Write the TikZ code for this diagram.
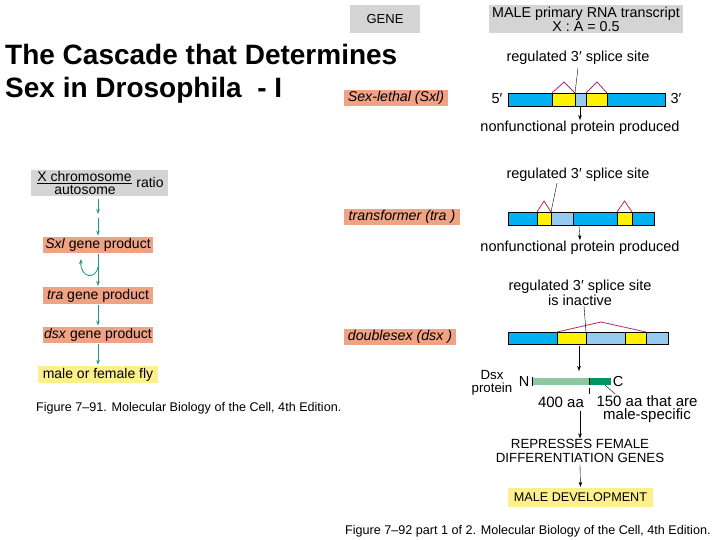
\documentclass[tikz,border=0pt]{standalone}
\usepackage{fontspec}
\setmainfont{Liberation Sans}
\usetikzlibrary{arrows.meta}
\definecolor{boxgray}{RGB}{212,212,212}
\definecolor{salmon}{RGB}{240,162,132}
\definecolor{paleyellow}{RGB}{252,240,140}
\definecolor{exonblue}{RGB}{0,176,240}
\definecolor{exonyellow}{RGB}{255,242,0}
\definecolor{paleblue}{RGB}{150,202,238}
\definecolor{intron}{RGB}{180,40,100}
\definecolor{arrowteal}{RGB}{30,150,130}
\definecolor{lightgreen}{RGB}{140,200,160}
\definecolor{darkgreen}{RGB}{0,150,100}
\tikzset{
  lbl/.style={inner sep=0pt,align=center,font=\fontsize{14.5}{15}\selectfont},
  graybox/.style={fill=boxgray,inner sep=0pt,align=center,font=\fontsize{14.3}{14.5}\selectfont},
  genebox/.style={fill=salmon,inner sep=0pt,minimum height=16pt,font=\fontsize{14.2}{15}\selectfont\itshape},
  stepbox/.style={fill=salmon,inner sep=0pt,minimum width=110pt,minimum height=16.5pt,font=\fontsize{14}{15}\selectfont},
  endbox/.style={fill=paleyellow,inner sep=0pt,font=\fontsize{14}{15}\selectfont},
  cascade/.style={->,draw=arrowteal,thick},
  splice/.style={draw=intron,thick},
  exon/.style={draw=black,line width=0.8pt},
  caption/.style={inner sep=0pt,anchor=base west,font=\fontsize{12.6}{14}\selectfont}
}
\begin{document}
\begin{tikzpicture}[x=1pt,y=-1pt,>={Stealth[length=5pt,width=3.5pt]}]
\useasboundingbox[fill=white] (0,0) rectangle (720,540);
% title
\node[inner sep=0pt,anchor=base west,font=\fontsize{28}{33}\selectfont\bfseries] (title1) at (5,65) {The Cascade that Determines};
\node[inner sep=0pt,anchor=base west,font=\fontsize{28}{33}\selectfont\bfseries] (title2) at (5,98) {Sex in Drosophila\ \ - I};

% left: the cascade
\node[graybox,minimum width=137pt,minimum height=26pt] (ratio) at (99.5,183) {};
\node[lbl,font=\fontsize{14}{15}\selectfont] (xchr) at (84.5,176) {X chromosome};
\node[lbl,font=\fontsize{14}{15}\selectfont] (auto) at (85,190) {autosome};
\draw ([yshift=-1.5pt]xchr.south west) -- ([yshift=-1.5pt]xchr.south east);
\node[lbl,font=\fontsize{14}{15}\selectfont] (ratiotxt) at (150,182) {ratio};
\coordinate (mid) at (98,216);
\node[stepbox] (sxlp) at (98,245) {\textit{Sxl} gene product};
\node[stepbox] (trap) at (98,295.5) {\textit{tra} gene product};
\node[stepbox] (dsxp) at (98,335) {\textit{dsx} gene product};
\node[endbox,minimum width=120pt,minimum height=17pt] (fly) at (98,374.5) {male or female fly};
\draw[cascade] ([yshift=-3pt]ratio.south -| mid) -- ([yshift=2pt]mid);
\draw[cascade] ([yshift=-2pt]mid) -- ([yshift=1pt]sxlp.north);
\draw[cascade] ([yshift=-1pt]sxlp.south) -- ([yshift=1pt]trap.north);
\draw[cascade] (98,267) .. controls (96,280) and (80,278) .. (81,259);
\draw[cascade] ([yshift=-1pt]trap.south) -- ([yshift=1pt]dsxp.north);
\draw[cascade] ([yshift=-1pt]dsxp.south) -- ([yshift=1pt]fly.north);
\node[caption] (cap1) at (36,411) {Figure 7–91. Molecular Biology of the Cell, 4th Edition.};

% headings
\node[graybox,minimum width=70pt,minimum height=28pt,font=\fontsize{13}{14}\selectfont] (gene) at (385,19) {GENE};
\node[graybox,minimum width=194pt,minimum height=28pt] (male) at (586,19.5) {MALE primary RNA transcript\\X : A = 0.5};
\node[genebox,minimum width=104pt] (sxl) at (396,98) {Sex-lethal (Sxl)};
\node[genebox,minimum width=116pt] (tra) at (402,217) {transformer (tra )};
\node[genebox,minimum width=112pt] (dsx) at (400,337) {doublesex (dsx )};

% Sxl transcript
\node[lbl] (sxlreg) at (578,58) {regulated 3′ splice site};
\foreach \a/\b/\c in {508/552/exonblue,552/575/exonyellow,575/586/paleblue,586/607/exonyellow,607/665/exonblue}
  \draw[exon,fill=\c] (\a,93) rectangle (\b,106);
\draw[splice] (552,93) -- (564,82) -- (575,93);
\draw[splice] (586,93) -- (597,82) -- (607,93);
\coordinate (sxlsite) at (575,93);
\draw ([yshift=-3pt]sxlreg.south) -- (sxlsite);
\node[lbl] (five1) at (497,99) {5′};
\node[lbl] (three1) at (676,99) {3′};
\coordinate (sxlcut) at (580,107);
\node[lbl] (sxlno) at (580,128) {nonfunctional protein produced};
\draw[->] (sxlcut) -- ([yshift=1pt]sxlno.north);

% tra transcript
\node[lbl] (trareg) at (578,175) {regulated 3′ splice site};
\foreach \a/\b/\c in {508/537/exonblue,537/551/exonyellow,551/573/paleblue,573/617/exonblue,617/632/exonyellow,632/654/exonblue}
  \draw[exon,fill=\c] (\a,212) rectangle (\b,225);
\draw[splice] (537,212) -- (544,201) -- (551,212);
\draw[splice] (617,212) -- (624.5,201) -- (632,212);
\coordinate (trasite) at (551,212);
\draw (557,183) -- (trasite);
\coordinate (tracut) at (579,226);
\node[lbl] (trano) at (580,248) {nonfunctional protein produced};
\draw[->] (tracut) -- ([yshift=1pt]trano.north);

% dsx transcript
\node[lbl] (dsxreg) at (580,293) {regulated 3′ splice site\\is inactive};
\foreach \a/\b/\c in {508/557/exonblue,557/586/exonyellow,586/625/paleblue,625/646/exonyellow,646/668/paleblue}
  \draw[exon,fill=\c] (\a,332) rectangle (\b,344);
\draw[splice] (557,332) -- (601,322) -- (646,332);
\coordinate (dsxsite) at (586,332);
\draw (584,306) -- (dsxsite);
\coordinate (dsxcut) at (579,346);
\coordinate (dsxprot) at (579,371);
\draw[->] (dsxcut) -- (dsxprot);

% Dsx protein
\node[lbl,font=\fontsize{13.3}{13}\selectfont] (dsxname) at (492,383) {Dsx\\protein};
\fill[lightgreen] (532,378) rectangle (589,385);
\fill[darkgreen] (589,378) rectangle (611,385);
\draw (532,377) -- (532,386);
\draw (589,378) -- (589,385);
\draw (589,388) -- (589,394);
\node[lbl] (nterm) at (524,382) {N};
\node[lbl] (cterm) at (618,382) {C};
\node[lbl,font=\fontsize{15}{15}\selectfont] (aa400) at (561,402) {400 aa};
\node[lbl,font=\fontsize{15}{13.5}\selectfont] (aa150) at (647,409) {150 aa that are\\male-specific};
\draw (605,385) -- (615,394);
\coordinate (repstart) at (580,411);
\node[lbl,font=\fontsize{13.3}{13.5}\selectfont] (repress) at (580,451) {REPRESSES FEMALE\\DIFFERENTIATION GENES};
\draw[->] (repstart) -- ([yshift=1pt]repress.north);
\node[endbox,minimum width=145pt,minimum height=19pt,font=\fontsize{12.6}{14}\selectfont] (maledev) at (580.5,497.5) {MALE DEVELOPMENT};
\draw[->] ([yshift=-2pt]repress.south) -- ([yshift=1pt]maledev.north);
\node[caption] (cap2) at (345,534) {Figure 7–92 part 1 of 2. Molecular Biology of the Cell, 4th Edition.};
\end{tikzpicture}
\end{document}
